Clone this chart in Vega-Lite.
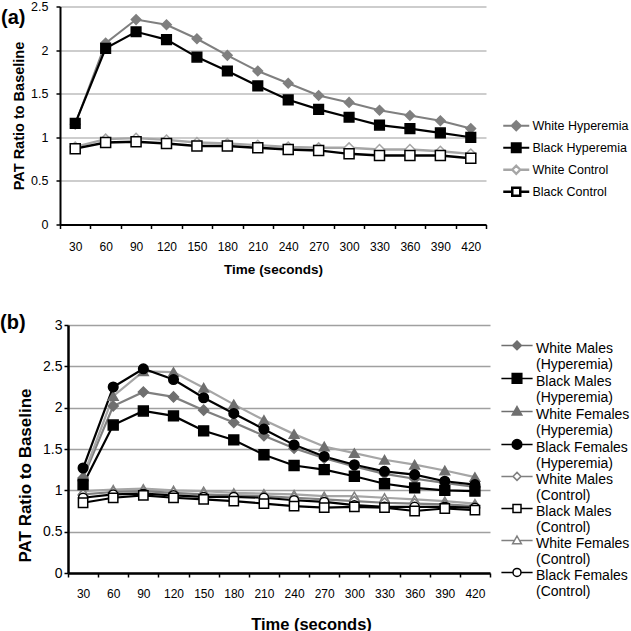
{
"$schema": "https://vega.github.io/schema/vega-lite/v6.json",
"background": "white",
"padding": {"left": 0, "top": 0.5, "right": 0, "bottom": 0},
"config": {
  "font": "Liberation Sans",
  "view": {"stroke": null},
  "axis": {"domainColor": "#000000", "tickColor": "#000000", "labelColor": "#000000", "titleColor": "#000000", "labelFont": "Liberation Sans", "titleFont": "Liberation Sans", "titleFontWeight": "bold"},
  "legend": {"labelFont": "Liberation Sans", "labelColor": "#000000"}
},
"datasets": {
  "a": [
    {"s":"White Control","t":30,"v":0.89},{"s":"White Control","t":60,"v":0.98},{"s":"White Control","t":90,"v":0.99},{"s":"White Control","t":120,"v":0.97},{"s":"White Control","t":150,"v":0.94},{"s":"White Control","t":180,"v":0.93},{"s":"White Control","t":210,"v":0.91},{"s":"White Control","t":240,"v":0.89},{"s":"White Control","t":270,"v":0.88},{"s":"White Control","t":300,"v":0.88},{"s":"White Control","t":330,"v":0.86},{"s":"White Control","t":360,"v":0.86},{"s":"White Control","t":390,"v":0.84},{"s":"White Control","t":420,"v":0.81},
    {"s":"Black Control","t":30,"v":0.87},{"s":"Black Control","t":60,"v":0.94},{"s":"Black Control","t":90,"v":0.95},{"s":"Black Control","t":120,"v":0.93},{"s":"Black Control","t":150,"v":0.90},{"s":"Black Control","t":180,"v":0.90},{"s":"Black Control","t":210,"v":0.88},{"s":"Black Control","t":240,"v":0.86},{"s":"Black Control","t":270,"v":0.85},{"s":"Black Control","t":300,"v":0.81},{"s":"Black Control","t":330,"v":0.79},{"s":"Black Control","t":360,"v":0.79},{"s":"Black Control","t":390,"v":0.79},{"s":"Black Control","t":420,"v":0.76},
    {"s":"White Hyperemia","t":30,"v":1.15},{"s":"White Hyperemia","t":60,"v":2.08},{"s":"White Hyperemia","t":90,"v":2.35},{"s":"White Hyperemia","t":120,"v":2.29},{"s":"White Hyperemia","t":150,"v":2.13},{"s":"White Hyperemia","t":180,"v":1.94},{"s":"White Hyperemia","t":210,"v":1.76},{"s":"White Hyperemia","t":240,"v":1.62},{"s":"White Hyperemia","t":270,"v":1.48},{"s":"White Hyperemia","t":300,"v":1.40},{"s":"White Hyperemia","t":330,"v":1.31},{"s":"White Hyperemia","t":360,"v":1.25},{"s":"White Hyperemia","t":390,"v":1.19},{"s":"White Hyperemia","t":420,"v":1.10},
    {"s":"Black Hyperemia","t":30,"v":1.16},{"s":"Black Hyperemia","t":60,"v":2.02},{"s":"Black Hyperemia","t":90,"v":2.21},{"s":"Black Hyperemia","t":120,"v":2.12},{"s":"Black Hyperemia","t":150,"v":1.92},{"s":"Black Hyperemia","t":180,"v":1.76},{"s":"Black Hyperemia","t":210,"v":1.59},{"s":"Black Hyperemia","t":240,"v":1.43},{"s":"Black Hyperemia","t":270,"v":1.32},{"s":"Black Hyperemia","t":300,"v":1.23},{"s":"Black Hyperemia","t":330,"v":1.14},{"s":"Black Hyperemia","t":360,"v":1.10},{"s":"Black Hyperemia","t":390,"v":1.05},{"s":"Black Hyperemia","t":420,"v":1.00}
  ],
  "b": [
    {"s":"White Females (Control)","t":30,"v":0.99},{"s":"White Females (Control)","t":60,"v":1.01},{"s":"White Females (Control)","t":90,"v":1.02},{"s":"White Females (Control)","t":120,"v":1.00},{"s":"White Females (Control)","t":150,"v":0.99},{"s":"White Females (Control)","t":180,"v":0.97},{"s":"White Females (Control)","t":210,"v":0.96},{"s":"White Females (Control)","t":240,"v":0.95},{"s":"White Females (Control)","t":270,"v":0.93},{"s":"White Females (Control)","t":300,"v":0.93},{"s":"White Females (Control)","t":330,"v":0.91},{"s":"White Females (Control)","t":360,"v":0.89},{"s":"White Females (Control)","t":390,"v":0.87},{"s":"White Females (Control)","t":420,"v":0.84},
    {"s":"White Males (Control)","t":30,"v":0.95},{"s":"White Males (Control)","t":60,"v":0.98},{"s":"White Males (Control)","t":90,"v":0.99},{"s":"White Males (Control)","t":120,"v":0.97},{"s":"White Males (Control)","t":150,"v":0.95},{"s":"White Males (Control)","t":180,"v":0.94},{"s":"White Males (Control)","t":210,"v":0.93},{"s":"White Males (Control)","t":240,"v":0.91},{"s":"White Males (Control)","t":270,"v":0.89},{"s":"White Males (Control)","t":300,"v":0.87},{"s":"White Males (Control)","t":330,"v":0.85},{"s":"White Males (Control)","t":360,"v":0.84},{"s":"White Males (Control)","t":390,"v":0.83},{"s":"White Males (Control)","t":420,"v":0.81},
    {"s":"Black Females (Control)","t":30,"v":0.91},{"s":"Black Females (Control)","t":60,"v":0.95},{"s":"Black Females (Control)","t":90,"v":0.96},{"s":"Black Females (Control)","t":120,"v":0.94},{"s":"Black Females (Control)","t":150,"v":0.92},{"s":"Black Females (Control)","t":180,"v":0.92},{"s":"Black Females (Control)","t":210,"v":0.91},{"s":"Black Females (Control)","t":240,"v":0.88},{"s":"Black Females (Control)","t":270,"v":0.86},{"s":"Black Females (Control)","t":300,"v":0.82},{"s":"Black Females (Control)","t":330,"v":0.80},{"s":"Black Females (Control)","t":360,"v":0.80},{"s":"Black Females (Control)","t":390,"v":0.80},{"s":"Black Females (Control)","t":420,"v":0.79},
    {"s":"Black Males (Control)","t":30,"v":0.85},{"s":"Black Males (Control)","t":60,"v":0.91},{"s":"Black Males (Control)","t":90,"v":0.94},{"s":"Black Males (Control)","t":120,"v":0.91},{"s":"Black Males (Control)","t":150,"v":0.89},{"s":"Black Males (Control)","t":180,"v":0.87},{"s":"Black Males (Control)","t":210,"v":0.84},{"s":"Black Males (Control)","t":240,"v":0.81},{"s":"Black Males (Control)","t":270,"v":0.79},{"s":"Black Males (Control)","t":300,"v":0.80},{"s":"Black Males (Control)","t":330,"v":0.79},{"s":"Black Males (Control)","t":360,"v":0.75},{"s":"Black Males (Control)","t":390,"v":0.78},{"s":"Black Males (Control)","t":420,"v":0.76},
    {"s":"White Males (Hyperemia)","t":30,"v":1.15},{"s":"White Males (Hyperemia)","t":60,"v":2.02},{"s":"White Males (Hyperemia)","t":90,"v":2.19},{"s":"White Males (Hyperemia)","t":120,"v":2.13},{"s":"White Males (Hyperemia)","t":150,"v":1.97},{"s":"White Males (Hyperemia)","t":180,"v":1.82},{"s":"White Males (Hyperemia)","t":210,"v":1.66},{"s":"White Males (Hyperemia)","t":240,"v":1.51},{"s":"White Males (Hyperemia)","t":270,"v":1.39},{"s":"White Males (Hyperemia)","t":300,"v":1.29},{"s":"White Males (Hyperemia)","t":330,"v":1.20},{"s":"White Males (Hyperemia)","t":360,"v":1.14},{"s":"White Males (Hyperemia)","t":390,"v":1.09},{"s":"White Males (Hyperemia)","t":420,"v":1.04},
    {"s":"White Females (Hyperemia)","t":30,"v":1.17},{"s":"White Females (Hyperemia)","t":60,"v":2.14},{"s":"White Females (Hyperemia)","t":90,"v":2.44},{"s":"White Females (Hyperemia)","t":120,"v":2.43},{"s":"White Females (Hyperemia)","t":150,"v":2.24},{"s":"White Females (Hyperemia)","t":180,"v":2.04},{"s":"White Females (Hyperemia)","t":210,"v":1.85},{"s":"White Females (Hyperemia)","t":240,"v":1.68},{"s":"White Females (Hyperemia)","t":270,"v":1.53},{"s":"White Females (Hyperemia)","t":300,"v":1.45},{"s":"White Females (Hyperemia)","t":330,"v":1.37},{"s":"White Females (Hyperemia)","t":360,"v":1.31},{"s":"White Females (Hyperemia)","t":390,"v":1.24},{"s":"White Females (Hyperemia)","t":420,"v":1.16},
    {"s":"Black Males (Hyperemia)","t":30,"v":1.07},{"s":"Black Males (Hyperemia)","t":60,"v":1.79},{"s":"Black Males (Hyperemia)","t":90,"v":1.96},{"s":"Black Males (Hyperemia)","t":120,"v":1.90},{"s":"Black Males (Hyperemia)","t":150,"v":1.72},{"s":"Black Males (Hyperemia)","t":180,"v":1.61},{"s":"Black Males (Hyperemia)","t":210,"v":1.43},{"s":"Black Males (Hyperemia)","t":240,"v":1.30},{"s":"Black Males (Hyperemia)","t":270,"v":1.25},{"s":"Black Males (Hyperemia)","t":300,"v":1.17},{"s":"Black Males (Hyperemia)","t":330,"v":1.08},{"s":"Black Males (Hyperemia)","t":360,"v":1.03},{"s":"Black Males (Hyperemia)","t":390,"v":1.00},{"s":"Black Males (Hyperemia)","t":420,"v":0.99},
    {"s":"Black Females (Hyperemia)","t":30,"v":1.27},{"s":"Black Females (Hyperemia)","t":60,"v":2.25},{"s":"Black Females (Hyperemia)","t":90,"v":2.47},{"s":"Black Females (Hyperemia)","t":120,"v":2.34},{"s":"Black Females (Hyperemia)","t":150,"v":2.12},{"s":"Black Females (Hyperemia)","t":180,"v":1.93},{"s":"Black Females (Hyperemia)","t":210,"v":1.74},{"s":"Black Females (Hyperemia)","t":240,"v":1.55},{"s":"Black Females (Hyperemia)","t":270,"v":1.41},{"s":"Black Females (Hyperemia)","t":300,"v":1.31},{"s":"Black Females (Hyperemia)","t":330,"v":1.23},{"s":"Black Females (Hyperemia)","t":360,"v":1.19},{"s":"Black Females (Hyperemia)","t":390,"v":1.11},{"s":"Black Females (Hyperemia)","t":420,"v":1.07}
  ]
},
"spacing": 36.5,
"vconcat": [
  {
    "width": 418, "height": 218,
    "title": {"text": "(a)", "anchor": "start", "frame": "group", "fontSize": 20, "fontWeight": "bold", "font": "Liberation Sans", "color": "#000000", "offset": -27.5, "dx": -67},
    "data": {"name": "a"},
    "encoding": {
      "x": {"field": "t", "type": "ordinal", "title": "Time (seconds)",
        "scale": {"type": "band", "paddingInner": 0, "paddingOuter": 0, "range": [-8, 418], "domain": [30,60,90,120,150,180,210,240,270,300,330,360,390,420]},
        "axis": {"labelAngle": 0, "tickBand": "extent", "tickSize": 4, "tickWidth": 1.5, "domainWidth": 2, "labelFontSize": 12, "labelPadding": 13, "titleFontSize": 13.5, "titlePadding": 10, "grid": false}},
      "y": {"field": "v", "type": "quantitative", "title": "PAT Ratio to Baseline",
        "scale": {"domain": [0, 2.5], "nice": false},
        "axis": {"offset": 8, "values": [0,0.5,1,1.5,2,2.5], "format": "~g", "grid": true, "gridColor": "#bdbdbd", "gridWidth": 1.5, "tickSize": 4, "tickWidth": 1.5, "domainWidth": 2, "labelFontSize": 12.5, "labelPadding": 8, "titleFontSize": 14.5, "titlePadding": 4}}
    },
    "layer": [
      {"mark": {"type": "line"},
       "encoding": {
         "color": {"field": "s", "type": "nominal", "legend": null, "scale": {"domain": ["White Hyperemia","Black Hyperemia","White Control","Black Control"], "range": ["#7f7f7f","#000000","#a6a6a6","#000000"]}},
         "strokeWidth": {"field": "s", "type": "nominal", "legend": null, "scale": {"domain": ["White Hyperemia","Black Hyperemia","White Control","Black Control"], "range": [2, 2.5, 1.5, 2]}}
       }},
      {"mark": {"type": "point", "filled": true, "opacity": 1, "strokeWidth": 1.5},
       "encoding": {
         "shape": {"field": "s", "type": "nominal", "legend": null, "scale": {"domain": ["White Hyperemia","Black Hyperemia","White Control","Black Control"], "range": ["diamond","square","diamond","square"]}},
         "fill": {"field": "s", "type": "nominal", "legend": null, "scale": {"domain": ["White Hyperemia","Black Hyperemia","White Control","Black Control"], "range": ["#7f7f7f","#000000","#ffffff","#ffffff"]}},
         "stroke": {"field": "s", "type": "nominal", "legend": null, "scale": {"domain": ["White Hyperemia","Black Hyperemia","White Control","Black Control"], "range": ["#7f7f7f","#000000","#a6a6a6","#000000"]}},
         "size": {"field": "s", "type": "nominal", "legend": null, "scale": {"domain": ["White Hyperemia","Black Hyperemia","White Control","Black Control"], "range": [90, 100, 60, 70]}}
       }},
      {"transform": [{"filter": "datum.v > 100"}],
       "mark": {"type": "point", "filled": true, "opacity": 1, "size": 64},
       "encoding": {
         "shape": {"field": "s", "type": "nominal", "legend": {"title": null, "orient": "none", "legendX": 442, "legendY": 113, "padding": 0, "labelFontSize": 12.5, "labelOffset": 10, "rowPadding": 4, "symbolSize": 64, "labelLimit": 0}, "scale": {"domain": ["White Hyperemia","Black Hyperemia","White Control","Black Control"], "range": ["M-3.25,0H3.25M0,-1.15L1.15,0L0,1.15L-1.15,0Z","M-3.25,0H3.25M-1.1,-1.1H1.1V1.1H-1.1Z","M-3.25,0H-1M1,0H3.25M0,-1L1,0L0,1L-1,0Z","M-3.25,0H-1M1,0H3.25M-1,-1H1V1H-1Z"]}},
         "fill": {"field": "s", "type": "nominal", "legend": {"title": null, "orient": "none", "legendX": 442, "legendY": 113}, "scale": {"domain": ["White Hyperemia","Black Hyperemia","White Control","Black Control"], "range": ["#7f7f7f","#000000","#ffffff","#ffffff"]}},
         "stroke": {"field": "s", "type": "nominal", "legend": {"title": null, "orient": "none", "legendX": 442, "legendY": 113}, "scale": {"domain": ["White Hyperemia","Black Hyperemia","White Control","Black Control"], "range": ["#7f7f7f","#000000","#a6a6a6","#000000"]}},
         "strokeWidth": {"field": "s", "type": "nominal", "legend": {"title": null, "orient": "none", "legendX": 442, "legendY": 113}, "scale": {"domain": ["White Hyperemia","Black Hyperemia","White Control","Black Control"], "range": [2, 2.5, 1.5, 2]}}
       }}
    ],
    "resolve": {"scale": {"shape": "independent", "fill": "independent", "stroke": "independent", "strokeWidth": "independent", "size": "independent"}}
  },
  {
    "width": 422, "height": 248,
    "title": {"text": "(b)", "anchor": "start", "frame": "group", "fontSize": 20, "fontWeight": "bold", "font": "Liberation Sans", "color": "#000000", "offset": -15, "dx": -68},
    "data": {"name": "b"},
    "encoding": {
      "x": {"field": "t", "type": "ordinal", "title": "Time (seconds)",
        "scale": {"type": "band", "paddingInner": 0, "paddingOuter": 0, "domain": [30,60,90,120,150,180,210,240,270,300,330,360,390,420]},
        "axis": {"labelAngle": 0, "tickBand": "extent", "tickSize": 4, "tickWidth": 1.5, "domainWidth": 2.5, "labelFontSize": 12, "labelPadding": 11, "titleFontSize": 16.5, "titlePadding": 17, "titleX": 243, "grid": false}},
      "y": {"field": "v", "type": "quantitative", "title": "PAT Ratio to Baseline",
        "scale": {"domain": [0, 3], "nice": false},
        "axis": {"values": [0,0.5,1,1.5,2,2.5,3], "format": "~g", "grid": true, "gridColor": "#a0a0a0", "gridWidth": 1.5, "tickSize": 4, "tickWidth": 1.5, "domainWidth": 2.5, "labelFontSize": 14, "labelPadding": 2, "titleFontSize": 17, "titlePadding": 8, "titleY": 150}}
    },
    "layer": [
      {"mark": {"type": "line"},
       "encoding": {
         "color": {"field": "s", "type": "nominal", "legend": null, "scale": {"domain": ["White Males (Hyperemia)","Black Males (Hyperemia)","White Females (Hyperemia)","Black Females (Hyperemia)","White Males (Control)","Black Males (Control)","White Females (Control)","Black Females (Control)"], "range": ["#6f6f6f","#000000","#6f6f6f","#000000","#808080","#000000","#808080","#000000"]}},
         "strokeWidth": {"value": 2.2}
       }},
      {"mark": {"type": "point", "filled": true, "opacity": 1, "strokeWidth": 1.5},
       "encoding": {
         "shape": {"field": "s", "type": "nominal", "legend": null, "scale": {"domain": ["White Males (Hyperemia)","Black Males (Hyperemia)","White Females (Hyperemia)","Black Females (Hyperemia)","White Males (Control)","Black Males (Control)","White Females (Control)","Black Females (Control)"], "range": ["diamond","square","triangle-up","circle","diamond","square","triangle-up","circle"]}},
         "fill": {"field": "s", "type": "nominal", "legend": null, "scale": {"domain": ["White Males (Hyperemia)","Black Males (Hyperemia)","White Females (Hyperemia)","Black Females (Hyperemia)","White Males (Control)","Black Males (Control)","White Females (Control)","Black Females (Control)"], "range": ["#6f6f6f","#000000","#6f6f6f","#000000","#ffffff","#ffffff","#ffffff","#ffffff"]}},
         "stroke": {"field": "s", "type": "nominal", "legend": null, "scale": {"domain": ["White Males (Hyperemia)","Black Males (Hyperemia)","White Females (Hyperemia)","Black Females (Hyperemia)","White Males (Control)","Black Males (Control)","White Females (Control)","Black Females (Control)"], "range": ["#6f6f6f","#000000","#6f6f6f","#000000","#808080","#000000","#808080","#000000"]}},
         "size": {"field": "s", "type": "nominal", "legend": null, "scale": {"domain": ["White Males (Hyperemia)","Black Males (Hyperemia)","White Females (Hyperemia)","Black Females (Hyperemia)","White Males (Control)","Black Males (Control)","White Females (Control)","Black Females (Control)"], "range": [100, 81, 100, 110, 60, 64, 70, 64]}}
       }},
      {"transform": [{"filter": "datum.v > 100"}],
       "mark": {"type": "point", "filled": true, "opacity": 1, "size": 64, "strokeWidth": 2},
       "encoding": {
         "shape": {"field": "s", "type": "nominal", "legend": {"title": null, "orient": "none", "legendX": 442, "legendY": 17, "padding": 0, "labelFontSize": 14, "labelOffset": 12, "rowPadding": -2, "symbolSize": 64, "labelLimit": 0, "labelExpr": "[slice(datum.label, 0, indexof(datum.label, ' (')), slice(datum.label, indexof(datum.label, ' (') + 1)]"}, "scale": {"domain": ["White Males (Hyperemia)","Black Males (Hyperemia)","White Females (Hyperemia)","Black Females (Hyperemia)","White Males (Control)","Black Males (Control)","White Females (Control)","Black Females (Control)"], "range": [
           "M-3.9,-0.9H3.9M0,-2L1.1,-0.9L0,0.2L-1.1,-0.9Z",
           "M-3.9,-0.9H3.9M-1.2,-2.1H1.2V0.3H-1.2Z",
           "M-3.9,-0.9H3.9M0,-2.1L1.2,0H-1.2Z",
           "M-3.9,-0.9H3.9M-1.2,-0.9A1.2,1.2 0 1,0 1.2,-0.9A1.2,1.2 0 1,0 -1.2,-0.9Z",
           "M-3.9,-0.9H-1M1,-0.9H3.9M0,-1.9L1,-0.9L0,0.1L-1,-0.9Z",
           "M-3.9,-0.9H-1M1,-0.9H3.9M-1,-1.9H1V0.1H-1Z",
           "M-3.9,-0.9H-0.8M0.8,-0.9H3.9M0,-2L1.1,-0.05H-1.1Z",
           "M-3.9,-0.9H-1M1,-0.9H3.9M-1,-0.9A1,1 0 1,0 1,-0.9A1,1 0 1,0 -1,-0.9Z"]}},
         "fill": {"field": "s", "type": "nominal", "legend": {"title": null, "orient": "none", "legendX": 442, "legendY": 17}, "scale": {"domain": ["White Males (Hyperemia)","Black Males (Hyperemia)","White Females (Hyperemia)","Black Females (Hyperemia)","White Males (Control)","Black Males (Control)","White Females (Control)","Black Females (Control)"], "range": ["#6f6f6f","#000000","#6f6f6f","#000000","#ffffff","#ffffff","#ffffff","#ffffff"]}},
         "stroke": {"field": "s", "type": "nominal", "legend": {"title": null, "orient": "none", "legendX": 442, "legendY": 17}, "scale": {"domain": ["White Males (Hyperemia)","Black Males (Hyperemia)","White Females (Hyperemia)","Black Females (Hyperemia)","White Males (Control)","Black Males (Control)","White Females (Control)","Black Females (Control)"], "range": ["#6f6f6f","#000000","#6f6f6f","#000000","#808080","#000000","#808080","#000000"]}}
       }}
    ],
    "resolve": {"scale": {"shape": "independent", "fill": "independent", "stroke": "independent", "size": "independent"}}
  }
]
}
